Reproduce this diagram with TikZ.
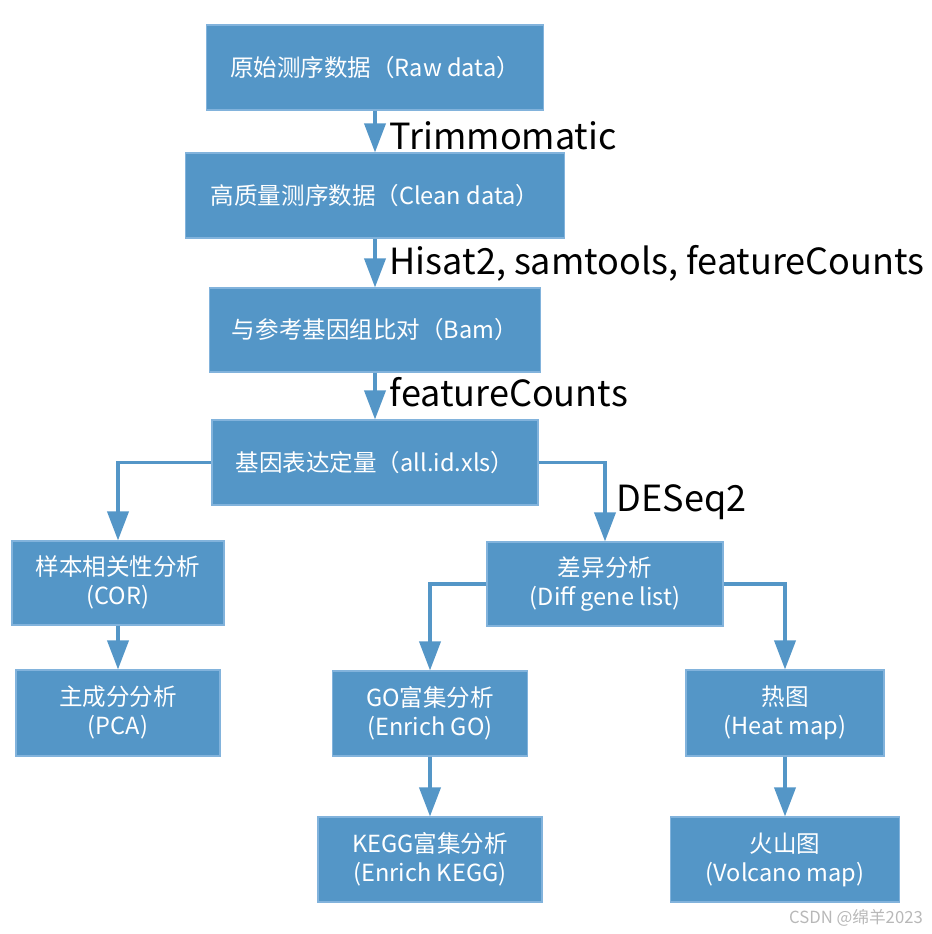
\documentclass[tikz,border=0pt]{standalone}
\usepackage{fontspec}
\setmainfont{Noto Sans CJK SC}
\usetikzlibrary{arrows.meta}
\definecolor{flowblue}{HTML}{5496C7}
\definecolor{flowedge}{HTML}{82B3DC}
\definecolor{markgray}{HTML}{B8B8B8}

\begin{document}
\begin{tikzpicture}[every node/.style={align=center},
  box/.style={draw=flowedge, line width=0.6pt, fill=flowblue, text=white, inner sep=0pt, font=\fontsize{13.4}{16.5}\selectfont},
  lbl/.style={text=black, xshift=0.14cm, font=\fontsize{20.5}{24}\selectfont},
  flow/.style={draw=flowblue, line width=2.1pt, -{Triangle[width=0.42cm,length=0.58cm]}}]
  \useasboundingbox (0,0) rectangle (18.62,-18.68);
  % main column
  \node[box, minimum width=6.74cm, minimum height=1.70cm] (raw) at (7.5,-1.35) {原始测序数据（Raw data）};
  \node[box, minimum width=7.58cm, minimum height=1.70cm] (clean) at (7.5,-3.91) {高质量测序数据（Clean data）};
  \node[box, minimum width=6.62cm, minimum height=1.68cm] (bam) at (7.5,-6.60) {与参考基因组比对（Bam）};
  \node[box, minimum width=6.52cm, minimum height=1.70cm] (quant) at (7.5,-9.25) {基因表达定量（all.id.xls）};
  % left branch
  \node[box, minimum width=4.24cm, minimum height=1.68cm, text depth=0.1cm] (cor) at (2.36,-11.66) {样本相关性分析\\(COR)};
  \node[box, minimum width=4.08cm, minimum height=1.72cm, text depth=0.1cm] (pca) at (2.36,-14.26) {主成分分析\\(PCA)};
  % right branch
  \node[box, minimum width=4.72cm, minimum height=1.68cm, text depth=0.1cm] (diff) at (12.10,-11.68) {差异分析\\(Diff gene list)};
  \node[box, minimum width=3.90cm, minimum height=1.70cm, text depth=0.1cm] (go) at (8.6,-14.27) {GO富集分析\\(Enrich GO)};
  \node[box, minimum width=3.96cm, minimum height=1.72cm, text depth=0.1cm] (heat) at (15.7,-14.26) {热图\\(Heat map)};
  \node[box, minimum width=4.48cm, minimum height=1.70cm, text depth=0.1cm] (kegg) at (8.6,-17.19) {KEGG富集分析\\(Enrich KEGG)};
  \node[box, minimum width=4.58cm, minimum height=1.70cm, text depth=0.1cm] (volcano) at (15.7,-17.19) {火山图\\(Volcano map)};

  \draw[flow] (raw) -- node[right, lbl, yshift=-0.08cm] {Trimmomatic} (clean);
  \draw[flow] (clean) -- node[right, lbl] {Hisat2, samtools, featureCounts} (bam);
  \draw[flow] (bam) -- node[right, lbl, yshift=0.08cm] {featureCounts} (quant);
  \draw[flow] (quant.west) -| (cor.north);
  \draw[flow] (quant.east) -| node[pos=0.75, right, lbl, xshift=-0.06cm] {DESeq2} (diff.north);
  \draw[flow] (cor) -- (pca);
  \draw[flow] (diff.west) -| (go.north);
  \draw[flow] (diff.east) -| (heat.north);
  \draw[flow] (go) -- (kegg);
  \draw[flow] (heat) -- (volcano);

  \node[anchor=east, text=markgray, font=\fontsize{9.5}{11}\selectfont] (mark) at (18.58,-18.36) {CSDN @绵羊2023};
\end{tikzpicture}
\end{document}
